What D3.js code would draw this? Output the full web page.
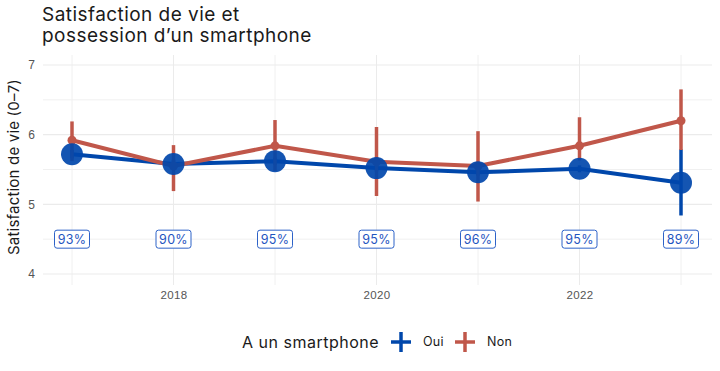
<!DOCTYPE html>
<html>
<head>
<meta charset="utf-8">
<script src="https://cdn.jsdelivr.net/npm/d3@7"></script>
<style>
  body { margin: 0; background: #fff; }
  svg { font-family: Inter, "Noto Sans", sans-serif; }
</style>
</head>
<body>
<svg id="chart" width="720" height="371"></svg>
<script>
// values
const years = [2017, 2018, 2019, 2020, 2021, 2022, 2023];
const ouiMean = [5.72, 5.58, 5.62, 5.52, 5.46, 5.51, 5.31];
const ouiLow  = [5.66, 5.52, 5.57, 5.47, 5.41, 5.46, 4.84];
const ouiHigh = [5.78, 5.64, 5.67, 5.57, 5.51, 5.56, 5.79];
const nonMean = [5.92, 5.55, 5.84, 5.61, 5.55, 5.84, 6.20];
const nonLow  = [5.62, 5.19, 5.48, 5.12, 5.04, 5.63, 5.78];
const nonHigh = [6.19, 5.85, 6.21, 6.11, 6.05, 6.25, 6.65];
const shareLabels = ["93%", "90%", "95%", "95%", "96%", "95%", "89%"];
const yTicks = [4, 5, 6, 7];
const yMinor = [4.5, 5.5, 6.5];
const xTicks = [2018, 2020, 2022];

const blue = "#0047ab", red = "#c0574a";
const svg = d3.select("#chart");

const x = d3.scaleLinear().domain([2017, 2023]).range([72, 681]);
const y = d3.scaleLinear().domain([4, 7]).range([274, 65]);
const panel = { left: 43, right: 712, top: 55, bottom: 285 };

// grid
const grid = svg.append("g");
grid.selectAll(".hmin").data(yMinor).join("line")
    .attr("x1", panel.left).attr("x2", panel.right)
    .attr("y1", d => y(d)).attr("y2", d => y(d))
    .attr("stroke", "#f0f0f0").attr("stroke-width", 1);
grid.selectAll(".v").data(years).join("line")
    .attr("x1", d => x(d)).attr("x2", d => x(d))
    .attr("y1", panel.top).attr("y2", panel.bottom)
    .attr("stroke", d => xTicks.includes(d) ? "#ebebeb" : "#f0f0f0").attr("stroke-width", 1);
grid.selectAll(".h").data(yTicks).join("line")
    .attr("x1", panel.left).attr("x2", panel.right)
    .attr("y1", d => y(d)).attr("y2", d => y(d))
    .attr("stroke", "#ebebeb").attr("stroke-width", 1.2);

// axes (text only, like ggplot minimal)
const yAxis = d3.axisLeft(y).tickValues(yTicks).tickFormat(d3.format("d")).tickSize(0).tickPadding(8);
svg.append("g").attr("transform", `translate(${panel.left},0)`).call(yAxis)
    .call(g => g.select(".domain").remove())
    .call(g => g.selectAll("text").attr("font-size", 12).attr("fill", "#555").attr("font-family", null));
const xAxis = d3.axisBottom(x).tickValues(xTicks).tickFormat(d3.format("d")).tickSize(0).tickPadding(6);
svg.append("g").attr("transform", `translate(0,${panel.bottom})`).call(xAxis)
    .call(g => g.select(".domain").remove())
    .call(g => g.selectAll("text").attr("font-size", 11.5).attr("fill", "#555")
        .attr("letter-spacing", 0.4).attr("font-family", null));

// y title
svg.append("text")
    .attr("transform", `translate(19,167) rotate(-90)`)
    .attr("text-anchor", "middle").attr("font-size", 15).attr("letter-spacing", 0.2).attr("fill", "#1a1a1a")
    .text("Satisfaction de vie (0–7)");

// title
const title = svg.append("text").attr("x", 42).attr("font-size", 19).attr("letter-spacing", 0.45).attr("fill", "#1a1a1a");
title.append("tspan").attr("x", 42).attr("y", 21).text("Satisfaction de vie et");
title.append("tspan").attr("x", 42).attr("y", 42).text("possession d’un smartphone");

const line = d3.line().x(d => x(d[0])).y(d => y(d[1]));

// blue series: line + bars
svg.append("path").datum(years.map((yr, i) => [yr, ouiMean[i]]))
    .attr("d", line).attr("fill", "none").attr("stroke", blue).attr("stroke-width", 4);
svg.selectAll(".ebOui").data(years).join("line")
    .attr("x1", d => x(d)).attr("x2", d => x(d))
    .attr("y1", (d, i) => y(ouiLow[i])).attr("y2", (d, i) => y(ouiHigh[i]))
    .attr("stroke", blue).attr("stroke-width", 3.5);

// red series
svg.append("path").datum(years.map((yr, i) => [yr, nonMean[i]]))
    .attr("d", line).attr("fill", "none").attr("stroke", red).attr("stroke-width", 4);
svg.selectAll(".ebNon").data(years).join("line")
    .attr("x1", d => x(d)).attr("x2", d => x(d))
    .attr("y1", (d, i) => y(nonLow[i])).attr("y2", (d, i) => y(nonHigh[i]))
    .attr("stroke", red).attr("stroke-width", 3.5);
svg.selectAll(".ptNon").data(years).join("circle")
    .attr("cx", d => x(d)).attr("cy", (d, i) => y(nonMean[i]))
    .attr("r", 4.5).attr("fill", red);

// blue points on top
svg.selectAll(".ptOui").data(years).join("circle")
    .attr("cx", d => x(d)).attr("cy", (d, i) => y(ouiMean[i]))
    .attr("r", 11).attr("fill", blue).attr("fill-opacity", 0.92);

// share labels
const lab = svg.selectAll(".lab").data(years).join("g")
    .attr("transform", d => `translate(${x(d)},${y(4.5)})`);
lab.append("rect").attr("x", -17.5).attr("y", -9).attr("width", 35).attr("height", 18)
    .attr("rx", 2.5).attr("fill", "#fff").attr("stroke", "#2d62c8").attr("stroke-width", 1);
lab.append("text").attr("text-anchor", "middle").attr("dy", "0.36em")
    .attr("font-size", 12.5).attr("letter-spacing", 0.3).attr("fill", "#1f55c0")
    .text((d, i) => shareLabels[i]);

// legend
const leg = svg.append("g").attr("transform", "translate(0,342)");
leg.append("text").attr("x", 242).attr("dy", "0.35em").attr("font-size", 16).attr("letter-spacing", 0.5).attr("fill", "#1a1a1a")
    .text("A un smartphone");
const items = [{ name: "Oui", color: blue, cx: 401, tx: 423 }, { name: "Non", color: red, cx: 465, tx: 487 }];
items.forEach(it => {
    leg.append("line").attr("x1", it.cx - 10).attr("x2", it.cx + 10).attr("stroke", it.color).attr("stroke-width", 3.5);
    leg.append("line").attr("x1", it.cx).attr("x2", it.cx).attr("y1", -10).attr("y2", 10).attr("stroke", it.color).attr("stroke-width", 3.5);
    leg.append("text").attr("x", it.tx).attr("dy", "0.35em").attr("font-size", 12.5).attr("letter-spacing", 0.3).attr("fill", "#1a1a1a").text(it.name);
});
</script>
</body>
</html>
